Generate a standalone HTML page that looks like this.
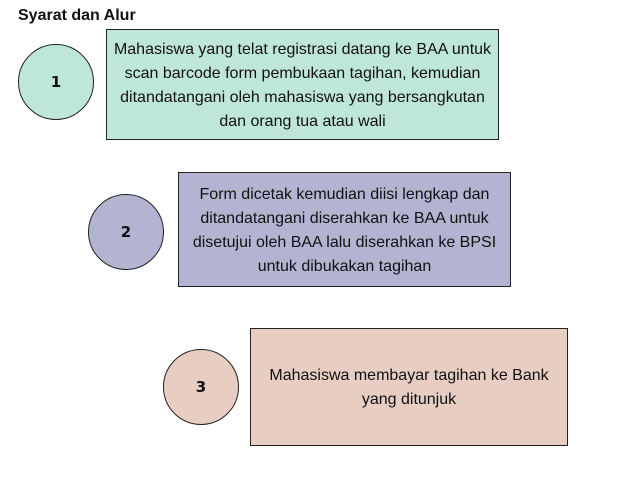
<!DOCTYPE html>
<html><head><style>
body{margin:0;width:633px;height:483px;background:#fff;position:relative;font-family:"Liberation Sans",sans-serif;overflow:hidden}
.t{position:absolute;left:18px;top:7px;font-weight:bold;font-size:16px;color:#111}
.c{position:absolute;width:74px;height:74px;border:1.5px solid #222;border-radius:50%;display:flex;align-items:center;justify-content:center;font-family:"DejaVu Sans",sans-serif;font-weight:bold;font-size:15px;color:#111}
.b{position:absolute;border:1.5px solid #222;display:flex;align-items:center;justify-content:center;text-align:center;font-size:16px;line-height:24px;color:#111;box-sizing:border-box;padding-top:2px}
</style></head><body>
<div class="t">Syarat dan Alur</div>
<div class="c" style="left:18px;top:44px;background:#bfe6da">1</div>
<div class="b" style="left:106px;top:29px;width:393px;height:111px;background:#bfe6da">Mahasiswa yang telat registrasi datang ke BAA untuk<br>scan barcode form pembukaan tagihan, kemudian<br>ditandatangani oleh mahasiswa yang bersangkutan<br>dan orang tua atau wali</div>
<div class="c" style="left:88px;top:194px;background:#b3b3d2">2</div>
<div class="b" style="left:178px;top:172px;width:333px;height:115px;background:#b3b3d2">Form dicetak kemudian diisi lengkap dan<br>ditandatangani diserahkan ke BAA untuk<br>disetujui oleh BAA lalu diserahkan ke BPSI<br>untuk dibukakan tagihan</div>
<div class="c" style="left:163px;top:349px;background:#e8cdc2">3</div>
<div class="b" style="left:250px;top:328px;width:318px;height:118px;background:#e8cdc2">Mahasiswa membayar tagihan ke Bank<br>yang ditunjuk</div>
</body></html>
